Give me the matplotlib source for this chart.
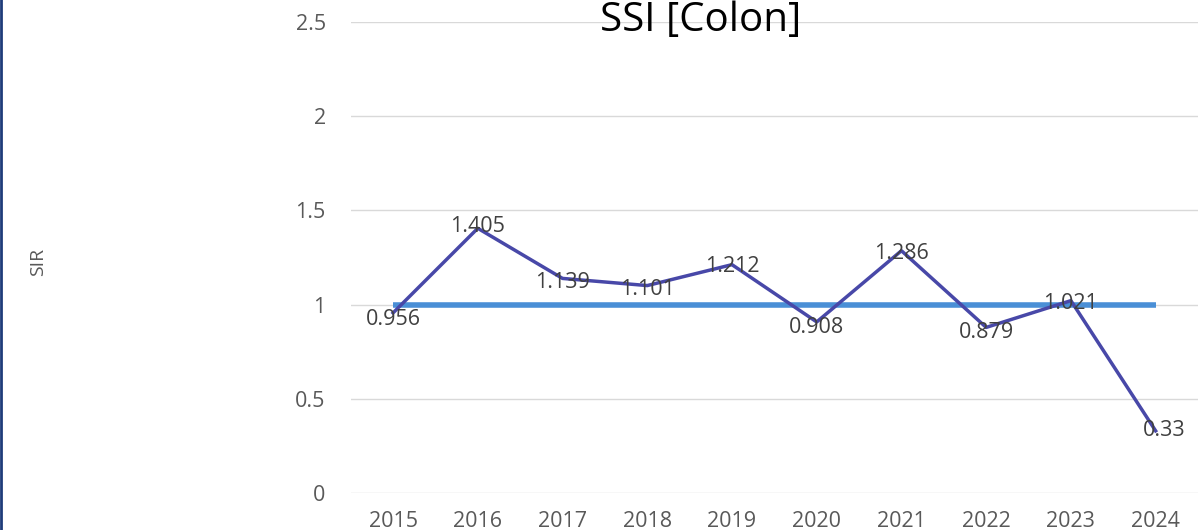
import matplotlib.pyplot as plt
from matplotlib.lines import Line2D

# Data
years = ['2015', '2016', '2017', '2018', '2019', '2020', '2021', '2022', '2023', '2024']
sir = [0.956, 1.405, 1.139, 1.101, 1.212, 0.908, 1.286, 0.879, 1.021, 0.33]
baseline = [1, 1, 1, 1, 1, 1, 1, 1, 1, 1]
yticks = [0, 0.5, 1, 1.5, 2, 2.5]
ytick_labels = ['0', '0.5', '1', '1.5', '2', '2.5']

plt.rcParams['font.family'] = ['Open Sans', 'DejaVu Sans']

fig = plt.figure(figsize=(12.01, 5.30), dpi=100)
ax = fig.add_axes([0.292, 0.0698, 0.7055, 0.8887])

x = list(range(len(years)))

# Gridlines
for t in yticks:
    ax.axhline(t, color='#d9d9d9', lw=1, zorder=0)

ax.plot(x, baseline, color='#4a8fd6', lw=4, zorder=2, solid_capstyle='butt')
ax.plot(x, sir, color='#4848a8', lw=2.5, zorder=3)

# Data labels
offsets = [(0, -5), (0, 1), (0, -3), (0, -3), (0, -1), (0, -4), (0, -2), (0, -4), (0, -2), (6, 0)]
for xi, v, (dx, dy) in zip(x, sir, offsets):
    ax.annotate('%g' % v, (xi, v), xytext=(dx, dy), textcoords='offset points',
                ha='center', va='center', fontsize=15.5, color='#404040', zorder=4)

ax.set_xlim(-0.5, len(years) - 0.5)
ax.set_ylim(0, 2.5)
ax.set_xticks(x)
ax.set_xticklabels(years, fontsize=15.5, color='#595959')
ax.set_yticks(yticks)
ax.set_yticklabels(ytick_labels, fontsize=15.5, color='#595959')
ax.tick_params(axis='both', length=0)
ax.tick_params(axis='y', pad=18)
ax.tick_params(axis='x', pad=13)
for s in ax.spines.values():
    s.set_visible(False)

fig.text(0.583, 0.96, 'SSI [Colon]', ha='center', va='center', fontsize=29, color='black')
fig.text(0.032, 0.505, 'SIR', rotation=90, ha='center', va='center', fontsize=14, color='#595959')

# left border
fig.add_artist(Line2D([0.001, 0.001], [0, 1], color='#1f3c7a', lw=2, transform=fig.transFigure))

fig.savefig('out.png', dpi=100)
